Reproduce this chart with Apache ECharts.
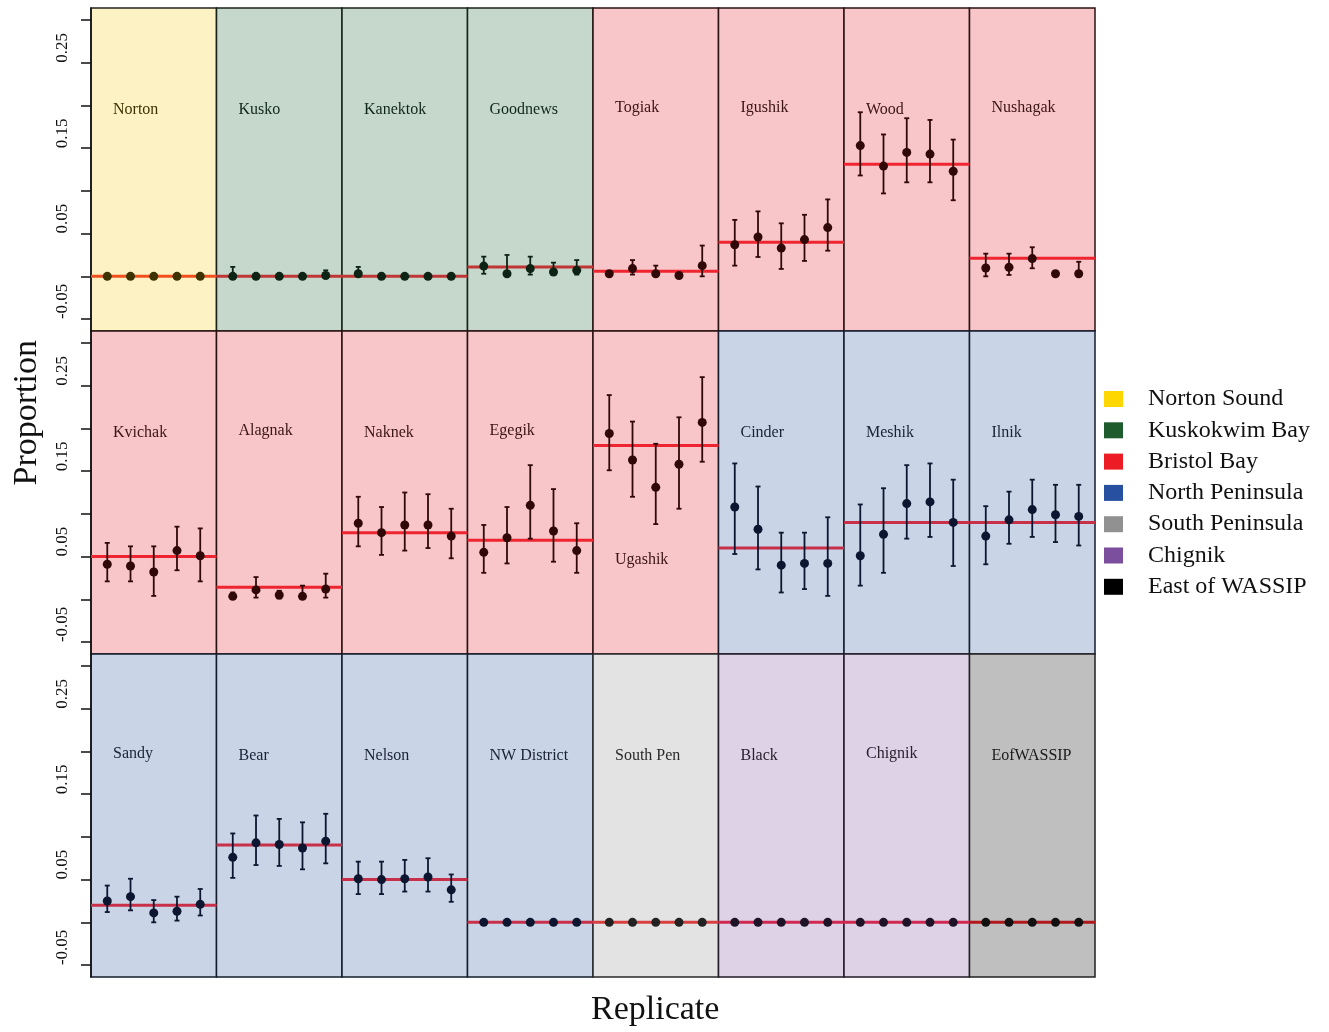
<!DOCTYPE html>
<html><head><meta charset="utf-8">
<script src="https://cdn.jsdelivr.net/npm/echarts@6/dist/echarts.min.js"></script>
<style>html,body{margin:0;padding:0;background:#fff}#chart{width:1329px;height:1032px}</style>
</head><body><div id="chart"></div>
<script>
// ---------------- DATA ----------------
const panelNames = ["Norton","Kusko","Kanektok","Goodnews","Togiak","Igushik","Wood","Nushagak",
  "Kvichak","Alagnak","Naknek","Egegik","Ugashik","Cinder","Meshik","Ilnik",
  "Sandy","Bear","Nelson","NW District","South Pen","Black","Chignik","EofWASSIP"];
const panelGroup = [0,1,1,1,2,2,2,2, 2,2,2,2,2,3,3,3, 3,3,3,3,4,5,5,6];
const groupNames = ["Norton Sound","Kuskokwim Bay","Bristol Bay","North Peninsula","South Peninsula","Chignik","East of WASSIP"];
const replicates = [1,2,3,4,5];
const trueProportion = [0,0,0,0.011,0.006,0.040,0.131,0.021,
  0.050,0.014,0.078,0.069,0.180,0.060,0.090,0.090,
  0.020,0.0905,0.050,0,0,0,0,0];
const estimate = [
  [0,0,0,0,0],[0,0,0,0,0.001],[0.003,0,0,0,0],[0.012,0.003,0.009,0.005,0.007],
  [0.003,0.009,0.003,0.001,0.0125],[0.037,0.046,0.033,0.043,0.057],[0.153,0.129,0.145,0.143,0.123],[0.0097,0.0105,0.0207,0.003,0.003],
  [0.041,0.039,0.032,0.057,0.051],[0.0035,0.011,0.005,0.0035,0.012],[0.089,0.078,0.087,0.087,0.074],[0.055,0.072,0.110,0.080,0.057],
  [0.194,0.163,0.131,0.158,0.207],[0.108,0.082,0.040,0.042,0.042],[0.051,0.076,0.112,0.114,0.090],[0.074,0.093,0.105,0.099,0.097],
  [0.025,0.030,0.011,0.013,0.021],[0.076,0.093,0.091,0.087,0.095],[0.051,0.050,0.051,0.053,0.038],[0,0,0,0,0],
  [0,0,0,0,0],[0,0,0,0,0],[0,0,0,0,0],[0,0,0,0,0]];
const lowerCI = [
  [0,0,0,0,0],[0,0,0,0,0],[0,0,0,0,0],[0.003,0.003,0.002,0.005,0.002],
  [0.003,0.002,0.003,0.001,0.0],[0.0125,0.0226,0.0086,0.018,0.030],[0.118,0.097,0.110,0.110,0.089],[0,0.0016,0.0094,0.003,0.003],
  [0.021,0.021,0.004,0.034,0.021],[0.0035,0.002,0.001,0.0035,0.002],[0.062,0.052,0.057,0.060,0.048],[0.031,0.042,0.071,0.044,0.031],
  [0.151,0.120,0.088,0.106,0.161],[0.053,0.035,0.008,0.012,0.004],[0.016,0.031,0.071,0.073,0.039],[0.041,0.065,0.073,0.067,0.063],
  [0.012,0.014,0.0,0.002,0.008],[0.052,0.067,0.066,0.062,0.069],[0.033,0.033,0.036,0.036,0.024],[0,0,0,0,0],
  [0,0,0,0,0],[0,0,0,0,0],[0,0,0,0,0],[0,0,0,0,0]];
const upperCI = [
  [0,0,0,0,0],[0.011,0,0,0,0.007],[0.011,0,0,0,0],[0.023,0.025,0.023,0.016,0.019],
  [0.006,0.019,0.0125,0.001,0.036],[0.066,0.076,0.062,0.072,0.090],[0.192,0.166,0.185,0.183,0.160],[0.0265,0.0265,0.034,0.003,0.017],
  [0.066,0.062,0.062,0.085,0.083],[0.008,0.026,0.010,0.016,0.030],[0.120,0.108,0.125,0.123,0.106],[0.087,0.108,0.157,0.129,0.089],
  [0.239,0.208,0.182,0.213,0.260],[0.159,0.132,0.078,0.078,0.096],[0.111,0.130,0.157,0.159,0.140],[0.109,0.126,0.140,0.134,0.134],
  [0.043,0.051,0.026,0.030,0.039],[0.104,0.125,0.121,0.117,0.127],[0.071,0.071,0.073,0.075,0.056],[0,0,0,0,0],
  [0,0,0,0,0],[0,0,0,0,0],[0,0,0,0,0],[0,0,0,0,0]];
const yTicks = [-0.05,0,0.05,0.1,0.15,0.2,0.25,0.3];
const yTickLabels = [-0.05,0.05,0.15,0.25];

// ---------------- STYLE ----------------
const legendColors = ["#FFD700","#1E5B2D","#ED1C24","#2850A0","#919191","#7B4F9E","#000000"];
const panelBg   = ["#FCF2C4","#C5D8CB","#F8C6C8","#C9D4E6","#E3E3E3","#DED2E6","#BFBFBF"];
const pointCol  = ["#3D3300","#0D2414","#300808","#0C1630","#222222","#1E1428","#111111"];
const lineCol   = ["#F2501E","#C03535","#EE2530","#C83049","#D84040","#D02850","#B0181C"];
const textCol   = ["#3D3300","#10281A","#3B1414","#1A2238","#2A2A2A","#2A2030","#1A1A1A"];
const borderCol = ["#222222","#17221A","#2A1212","#151C2C","#2A2A2A","#221A28","#222222"];
const FONT = "'Liberation Serif', 'Times New Roman', serif";
const LAY = {left: 91, top: 8, w: 125.5, h: 323, cols: 8};
const labelDy = {"Togiak":-2,"Igushik":-2,"Nushagak":-2,"Alagnak":-2,"Egegik":-2,"Sandy":-2,"Chignik":-2,"Ugashik":127};

const grids = [], xAxes = [], yAxes = [], series = [], graphics = [];
panelNames.forEach((name, i) => {
  const r = Math.floor(i / LAY.cols), c = i % LAY.cols, g = panelGroup[i];
  const left = LAY.left + c * LAY.w, top = LAY.top + r * LAY.h;
  grids.push({left: left, top: top, width: LAY.w, height: LAY.h, show: true,
    backgroundColor: panelBg[g], borderColor: borderCol[g], borderWidth: 1.5, containLabel: false});
  xAxes.push({type: 'value', gridIndex: i, min: 0.3, max: 5.7, show: false});
  const isLeft = c === 0;
  yAxes.push({type: 'value', gridIndex: i, min: -0.064, max: 0.314, show: isLeft,
    splitLine: {show: false},
    axisLine: {show: isLeft, lineStyle: {color: '#111', width: 1.5}},
    axisTick: {show: isLeft, length: 10, inside: false, customValues: yTicks, lineStyle: {color: '#111', width: 1.5}},
    axisLabel: {show: isLeft, customValues: yTickLabels, rotate: 90, align: 'left', verticalAlign: 'bottom',
      margin: 20, fontSize: 17, fontFamily: FONT, color: '#111', formatter: v => String(v)}
  });
  // true proportion line
  series.push({type: 'line', xAxisIndex: i, yAxisIndex: i, z: 2, symbol: 'none', silent: true,
    lineStyle: {color: lineCol[g], width: 3}, data: [[0.3, trueProportion[i]], [5.7, trueProportion[i]]]});
  // error bars
  const ebData = replicates.map((x, k) => [x, lowerCI[i][k], upperCI[i][k]]).filter(d => d[2] - d[1] > 1e-9);
  const col = pointCol[g];
  series.push({type: 'custom', xAxisIndex: i, yAxisIndex: i, z: 3, silent: true,
    renderItem: (params, api) => {
      const p1 = api.coord([api.value(0), api.value(1)]);
      const p2 = api.coord([api.value(0), api.value(2)]);
      const cw = 2.5, st = {stroke: col, lineWidth: 1.8};
      return {type: 'group', children: [
        {type: 'line', shape: {x1: p1[0], y1: p1[1], x2: p2[0], y2: p2[1]}, style: st},
        {type: 'line', shape: {x1: p2[0] - cw, y1: p2[1], x2: p2[0] + cw, y2: p2[1]}, style: st},
        {type: 'line', shape: {x1: p1[0] - cw, y1: p1[1], x2: p1[0] + cw, y2: p1[1]}, style: st}
      ]};
    },
    data: ebData});
  // estimates
  series.push({type: 'scatter', xAxisIndex: i, yAxisIndex: i, z: 4, symbol: 'circle', symbolSize: 9, silent: true,
    itemStyle: {color: col, opacity: 1}, data: replicates.map((x, k) => [x, estimate[i][k]])});
  graphics.push({type: 'text', left: left + 22, top: top + 94 + (labelDy[name] || 0), z: 10,
    style: {text: name, font: '16px ' + FONT, fill: textCol[g]}});
});
// legend entries
groupNames.forEach((n, k) => {
  series.push({type: 'scatter', name: n, xAxisIndex: 0, yAxisIndex: 0, data: [],
    itemStyle: {color: legendColors[k], opacity: 1}});
});
graphics.push({type: 'text', left: 10, top: 340, rotation: Math.PI / 2, z: 10,
  style: {text: 'Proportion', font: '34px ' + FONT, fill: '#111'}});
graphics.push({type: 'text', left: 591, top: 993, z: 10,
  style: {text: 'Replicate', font: '34px ' + FONT, fill: '#111'}});

const chart = echarts.init(document.getElementById('chart'));
chart.setOption({
  animation: false,
  backgroundColor: '#ffffff',
  grid: grids, xAxis: xAxes, yAxis: yAxes, series: series, graphic: graphics,
  legend: {orient: 'vertical', left: 1104, top: 387, padding: 0, itemWidth: 19, itemHeight: 16, itemGap: 7.3,
    icon: 'rect', selectedMode: false,
    itemStyle: {opacity: 1},
    textStyle: {fontFamily: FONT, fontSize: 24, color: '#111', padding: [0, 0, 0, 20]},
    data: groupNames}
});
</script></body></html>
